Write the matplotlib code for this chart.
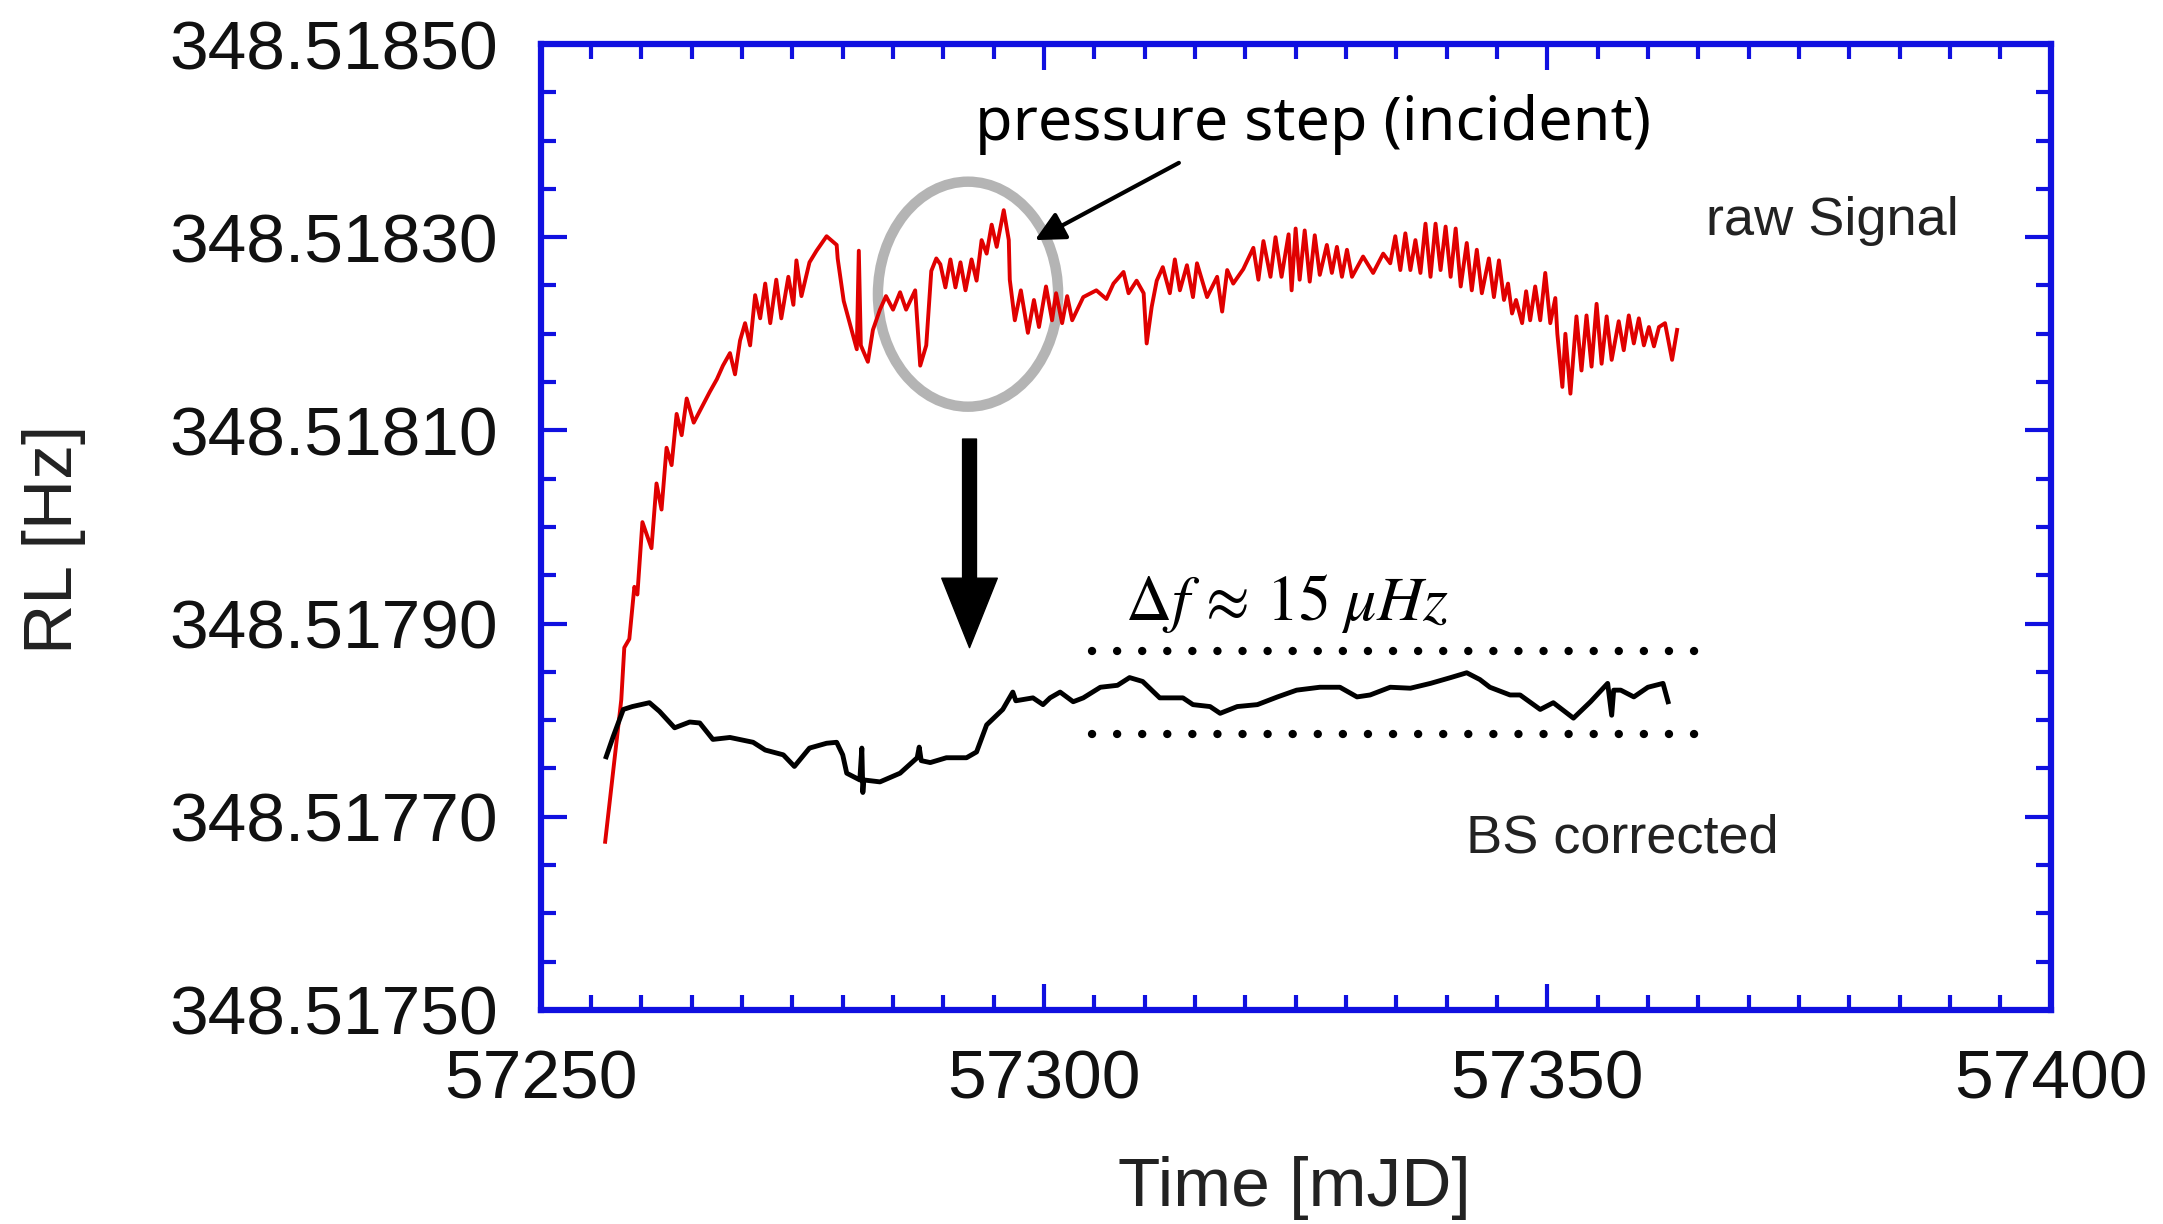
import numpy as np
import matplotlib
matplotlib.use('Agg')
import matplotlib.pyplot as plt
from matplotlib.patches import Ellipse
from matplotlib.ticker import MultipleLocator, FormatStrFormatter

# frequency values are stored as offsets in micro-Hz above 348.51750 Hz
base_hz = 348.5175

# raw signal (red)
red_day = [57256.4, 57258.0, 57258.3, 57258.8, 57259.3, 57259.6, 57260.1, 57261.0, 57261.5, 57262.0,
           57262.5, 57263.0, 57263.5, 57264.0, 57264.5, 57265.2, 57266.1, 57266.8, 57267.5, 57268.1,
           57268.8, 57269.3, 57269.8, 57270.3, 57270.8, 57271.3, 57271.8, 57272.3, 57272.8, 57273.4,
           57273.9, 57274.6, 57275.1, 57275.4, 57275.9, 57276.7, 57277.4, 57278.4, 57279.4, 57279.5,
           57280.1, 57280.7, 57281.4, 57281.6, 57281.8, 57282.5, 57283.0, 57283.7, 57284.3, 57285.0,
           57285.7, 57286.3, 57287.2, 57287.7, 57288.3, 57288.8, 57289.3, 57289.7, 57290.2, 57290.7,
           57291.2, 57291.7, 57292.2, 57292.8, 57293.3, 57293.8, 57294.3, 57294.8, 57295.3, 57296.0,
           57296.5, 57296.6, 57297.1, 57297.7, 57298.4, 57299.0, 57299.5, 57300.2, 57300.8, 57301.2,
           57301.8, 57302.3, 57302.8, 57303.9, 57305.2, 57306.2, 57306.9, 57307.9, 57308.4, 57309.2,
           57309.9, 57310.2, 57310.7, 57311.2, 57311.8, 57312.5, 57313.0, 57313.5, 57314.2, 57314.8,
           57315.2, 57316.2, 57317.2, 57317.7, 57318.2, 57318.8, 57319.8, 57320.8, 57321.3, 57321.8,
           57322.5, 57323.0, 57323.6, 57324.3, 57324.6, 57325.0, 57325.4, 57325.9, 57326.4, 57326.9,
           57327.4, 57328.1, 57328.6, 57329.1, 57329.6, 57330.1, 57330.6, 57331.7, 57332.7, 57333.7,
           57334.4, 57334.9, 57335.4, 57335.9, 57336.4, 57336.9, 57337.4, 57337.9, 57338.4, 57338.9,
           57339.4, 57339.9, 57340.4, 57340.9, 57341.4, 57342.0, 57342.5, 57343.0, 57343.5, 57344.2,
           57344.7, 57345.2, 57345.7, 57346.1, 57346.5, 57346.9, 57347.5, 57347.9, 57348.3, 57348.8,
           57349.3, 57349.8, 57350.3, 57350.8, 57351.0, 57351.5, 57351.8, 57352.3, 57352.9, 57353.4,
           57353.9, 57354.4, 57354.9, 57355.4, 57355.9, 57356.4, 57357.1, 57357.6, 57358.1, 57358.6,
           57359.1, 57359.6, 57360.1, 57360.6, 57361.1, 57361.7, 57362.4, 57362.9]
red_uhz = [174, 321, 375, 384, 438, 430, 505, 478, 545, 518,
           582, 564, 617, 595, 633, 608, 626, 640, 653, 667,
           680, 658, 693, 711, 688, 740, 716, 752, 711, 756,
           716, 759, 730, 776, 739, 774, 786, 801, 792, 778,
           734, 711, 684, 786, 688, 671, 704, 725, 739, 725,
           743, 725, 745, 667, 688, 765, 778, 772, 748, 777,
           748, 774, 745, 777, 755, 797, 783, 813, 790, 828,
           797, 756, 714, 745, 701, 735, 707, 749, 714, 742,
           711, 739, 714, 738, 745, 736, 752, 764, 742, 755,
           742, 690, 728, 755, 769, 742, 777, 745, 771, 738,
           773, 738, 759, 723, 766, 752, 767, 789, 756, 796,
           759, 800, 759, 803, 745, 809, 756, 807, 754, 802,
           761, 792, 763, 790, 759, 787, 759, 780, 763, 783,
           773, 801, 766, 804, 766, 797, 763, 814, 759, 814,
           766, 811, 759, 809, 749, 794, 745, 787, 742, 778,
           738, 776, 735, 752, 721, 735, 711, 744, 714, 749,
           714, 763, 711, 737, 700, 645, 700, 638, 718, 662,
           719, 666, 731, 669, 718, 673, 713, 683, 719, 690,
           716, 688, 707, 687, 707, 711, 673, 704]

# BS corrected signal (black)
blk_day = [57256.5, 57257.2, 57258.2, 57259.1, 57260.8, 57261.8, 57263.3, 57264.8, 57265.8, 57267.1,
           57268.8, 57271.1, 57272.3, 57274.1, 57275.2, 57276.7, 57278.4, 57279.4, 57280.0, 57280.4,
           57281.7, 57281.9, 57282.0, 57282.1, 57283.7, 57285.7, 57287.4, 57287.6, 57287.8, 57288.7,
           57290.3, 57292.3, 57293.3, 57294.3, 57295.9, 57296.9, 57297.2, 57298.9, 57299.9, 57300.6,
           57301.6, 57302.9, 57303.9, 57305.6, 57307.3, 57308.5, 57309.8, 57311.5, 57313.8, 57314.8,
           57316.5, 57317.5, 57319.2, 57321.2, 57323.2, 57325.1, 57327.4, 57329.4, 57331.1, 57332.4,
           57334.4, 57336.4, 57338.4, 57340.4, 57342.0, 57343.3, 57344.3, 57346.3, 57347.3, 57349.3,
           57350.6, 57352.6, 57354.3, 57356.0, 57356.4, 57356.6, 57357.3, 57358.6, 57360.0, 57361.5,
           57362.0]
blk_uhz = [262, 283, 311, 314, 318, 309, 292, 298, 297, 280,
           282, 277, 269, 264, 252, 271, 276, 277, 264, 245,
           238, 271, 225, 238, 236, 245, 261, 272, 258, 256,
           261, 261, 267, 295, 311, 329, 320, 323, 316, 323,
           329, 319, 323, 334, 336, 344, 340, 323, 323, 316,
           314, 307, 314, 316, 324, 331, 334, 334, 324, 326,
           334, 333, 338, 344, 349, 342, 334, 326, 326, 311,
           318, 302, 319, 338, 305, 331, 331, 324, 334, 338,
           319]

# band limits (dotted lines) in micro-Hz and their time span
band_uhz = [286, 372]
band_days = [57304.8, 57366.9]

y_ticks = [348.51750, 348.51770, 348.51790, 348.51810, 348.51830, 348.51850]
x_ticks = [57250, 57300, 57350, 57400]

red_y = base_hz + np.array(red_uhz) * 1e-6
blk_y = base_hz + np.array(blk_uhz) * 1e-6

def hz(u):
    return base_hz + u * 1e-6

blue = '#1010e0'
plt.rcParams['font.family'] = ['Liberation Sans', 'DejaVu Sans']

fig = plt.figure(figsize=(21.63, 12.24), dpi=100)
ax = fig.add_axes([0.250, 0.175, 0.698, 0.789])

ax.plot(red_day, red_y, color='#e00000', lw=2.8)
ax.plot(blk_day, blk_y, color='black', lw=3.5)

for u in band_uhz:
    ax.plot(band_days, [hz(u), hz(u)], color='black', lw=6,
            linestyle=(0, (0.01, 3.0)), dash_capstyle='round')

# gray circle around the incident
ax.add_patch(Ellipse((57292.45, hz(741)), 17.9, 233e-6, fill=False,
                     edgecolor='#b4b4b4', lw=7.5))

# small annotation arrow
ax.annotate('', xy=(57299.1, hz(797)), xytext=(57313.4, hz(877)),
            arrowprops=dict(arrowstyle='-|>,head_length=0.6,head_width=0.3',
                            color='black', lw=3, mutation_scale=30,
                            shrinkA=0, shrinkB=0))
ax.text(57326.7, hz(917), 'pressure step (incident)', fontsize=44,
        family='Noto Sans', ha='center', va='center')

# big down arrow
ax.annotate('', xy=(57292.6, hz(375)), xytext=(57292.6, hz(591)),
            arrowprops=dict(width=10, headwidth=40, headlength=50,
                            facecolor='black', edgecolor='black', shrink=0))

ax.text(57308.0, hz(421), r'$\Delta f\,\approx\,15\;\mu Hz$', fontsize=46,
        ha='left', va='center', math_fontfamily='stix')
ax.text(57378.3, hz(817), 'raw Signal', fontsize=39, ha='center', va='center',
        color='#222222')
ax.text(57357.5, hz(177), 'BS corrected', fontsize=39, ha='center', va='center',
        color='#222222')

ax.set_xlim(57250, 57400)
ax.set_ylim(348.5175, 348.5185)
ax.set_xticks(x_ticks)
ax.set_yticks(y_ticks)
ax.xaxis.set_minor_locator(MultipleLocator(5))
ax.yaxis.set_minor_locator(MultipleLocator(0.00005))
ax.yaxis.set_major_formatter(FormatStrFormatter('%.5f'))
ax.xaxis.set_major_formatter(FormatStrFormatter('%d'))

for s in ax.spines.values():
    s.set_color(blue)
    s.set_linewidth(4.5)
ax.tick_params(which='both', direction='in', top=True, right=True,
               color=blue, width=3, labelsize=50, labelcolor='#111111')
ax.tick_params(which='major', length=19, pad=28)
ax.tick_params(axis='y', which='major', pad=31)
ax.tick_params(which='minor', length=11)

ax.set_xlabel('Time [mJD]', fontsize=50, color='#222222')
ax.set_ylabel('RL [Hz]', fontsize=50, color='#222222')
ax.xaxis.set_label_coords(0.499, -0.151)
ax.yaxis.set_label_coords(-0.3015, 0.487)

plt.savefig('out.png', dpi=100)
